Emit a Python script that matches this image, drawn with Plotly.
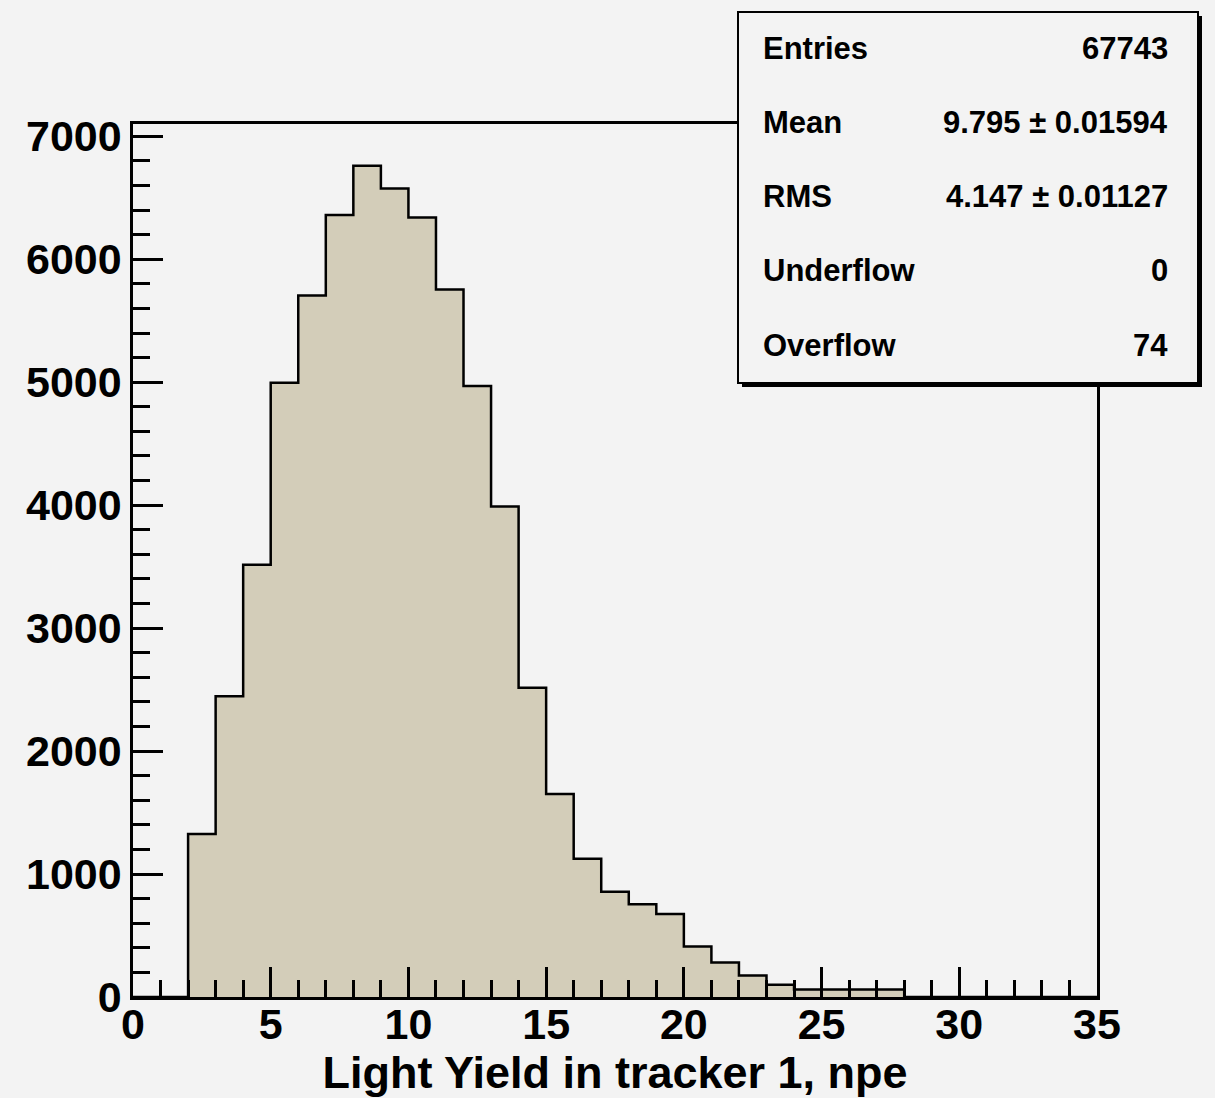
import plotly.graph_objects as go

# ---- data ----
bin_low_edges = list(range(0, 35))          # bins of width 1 from 0 to 35
bin_width = 1
counts = [0, 0, 1325, 2445, 3515, 4995, 5705, 6360, 6760, 6575,
          6340, 5755, 4970, 3990, 2515, 1650, 1125, 855, 755, 675,
          410, 280, 175, 100, 62, 62, 62, 62, 0, 0,
          0, 0, 0, 0, 0]

x_title = "Light Yield in tracker 1, npe"
x_range = [0, 35]
y_range = [0, 7100]

stat_labels = ["Entries", "Mean", "RMS", "Underflow", "Overflow"]
stat_values = ["67743", "9.795 \u00b1 0.01594", "4.147 \u00b1 0.01127", "0", "74"]

# ---- style ----
BG = "#f3f3f3"
FILL = "#d3cdb9"
FONT = "Liberation Sans"

W, H = 1215, 1098
L, R, T, B = 133, 118, 124, 101

edges = bin_low_edges + [bin_low_edges[-1] + bin_width]
step_y = counts + [counts[-1]]

fig = go.Figure()
fig.add_trace(go.Scatter(
    x=edges, y=step_y, mode="lines", line_shape="hv",
    line=dict(color="black", width=2.5),
    fill="tozeroy", fillcolor=FILL, showlegend=False, hoverinfo="skip",
))

fig.update_layout(
    width=W, height=H,
    margin=dict(l=L, r=R, t=T, b=B, autoexpand=False),
    paper_bgcolor=BG, plot_bgcolor=BG,
    font=dict(family=FONT, color="black"),
    showlegend=False,
)

fig.update_xaxes(
    range=x_range, tick0=0, dtick=5, ticks="inside", ticklen=30, tickwidth=2.5,
    tickcolor="black", showline=True, linecolor="black", linewidth=2.5, mirror=True,
    showgrid=False, zeroline=False, automargin=False,
    minor=dict(ticks="inside", ticklen=17, tickwidth=2.5, dtick=1, tick0=0, tickcolor="black", showgrid=False),
    tickfont=dict(size=43, family=FONT, weight="bold"),
    ticklabelstandoff=-12,
    title=dict(text=x_title, font=dict(size=45, family=FONT, weight="bold"), standoff=0),
)
fig.update_yaxes(
    range=y_range, tick0=0, dtick=1000, ticks="inside", ticklen=30, tickwidth=2.5,
    tickcolor="black", showline=True, linecolor="black", linewidth=2.5, mirror=True,
    showgrid=False, zeroline=False, automargin=False,
    minor=dict(ticks="inside", ticklen=17, tickwidth=2.5, dtick=200, tick0=0, tickcolor="black", showgrid=False),
    tickfont=dict(size=43, family=FONT, weight="bold"),
    ticklabelstandoff=0,
)

# ---- statistics box (pixel positions converted to paper coords) ----
pw = W - L - R
ph = H - T - B

def px(xp):
    return (xp - L) / pw

def py(yp):
    return (H - B - yp) / ph

box_l, box_t, box_r, box_b = 738, 12, 1198, 383
sh = 4
fig.add_shape(type="rect", xref="paper", yref="paper",
              x0=px(box_l + sh), x1=px(box_r + sh), y0=py(box_b + sh), y1=py(box_t + sh),
              fillcolor="black", line=dict(width=0), layer="above")
fig.add_shape(type="rect", xref="paper", yref="paper",
              x0=px(box_l), x1=px(box_r), y0=py(box_b), y1=py(box_t),
              fillcolor=BG, line=dict(color="black", width=2), layer="above")

row_y = [48, 122.5, 196.5, 270.5, 345]
for lab, val, yy in zip(stat_labels, stat_values, row_y):
    fig.add_annotation(x=px(761), y=py(yy), xref="paper", yref="paper",
                       text=lab, showarrow=False, xanchor="left", yanchor="middle",
                       font=dict(size=31, family=FONT, weight="bold", color="black"))
    fig.add_annotation(x=px(1170), y=py(yy), xref="paper", yref="paper",
                       text=val, showarrow=False, xanchor="right", yanchor="middle",
                       font=dict(size=31, family=FONT, weight="bold", color="black"))

fig.write_html("out.html", config={"displayModeBar": False},
               post_script="document.body.style.margin='0';document.body.style.background='" + BG + "';")
